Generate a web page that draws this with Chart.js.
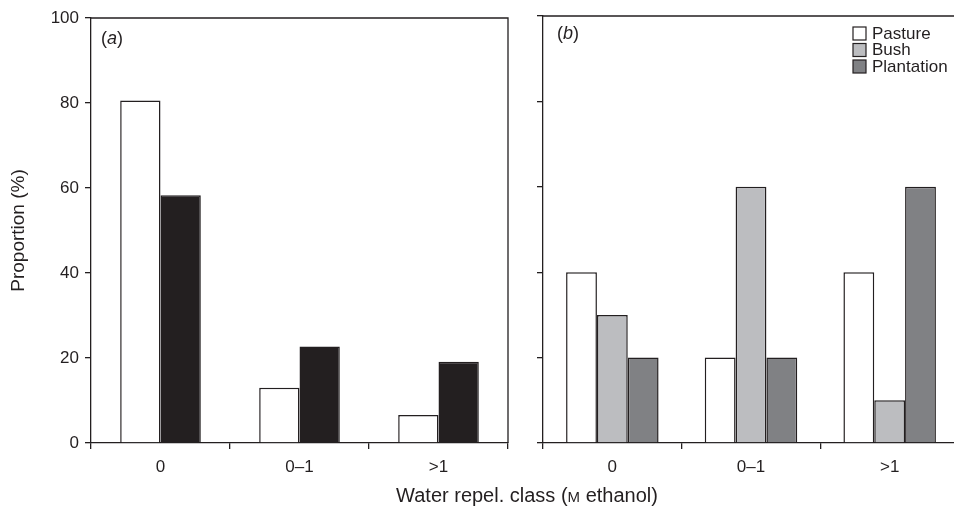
<!DOCTYPE html>
<html>
<head>
<meta charset="utf-8">
<script src="https://cdn.jsdelivr.net/npm/chart.js@4/dist/chart.umd.min.js"></script>
<style>
  html, body { margin: 0; padding: 0; background: #fff; }
  body { width: 954px; height: 512px; overflow: hidden; position: relative;
         font-family: "Liberation Sans", Arial, sans-serif; color: #231f20; }
  #wrapA { position: absolute; left: 0; top: 0; width: 520px; height: 512px; }
  #wrapB { position: absolute; left: 515px; top: 0; width: 460px; height: 512px; }
  .panel { position: absolute; font-size: 18px; line-height: 1; }
  #xtitle { position: absolute; left: 0; width: 1054px; top: 484px; text-align: center;
            font-size: 20px; white-space: nowrap; }
  #xtitle .sc { font-size: 15px; }
</style>
</head>
<body>
<div id="wrapA"><canvas id="chartA"></canvas></div>
<div id="wrapB"><canvas id="chartB"></canvas></div>
<div class="panel" style="left:101px; top:29px;">(<i>a</i>)</div>
<div class="panel" style="left:557px; top:24px;">(<i>b</i>)</div>
<div id="xtitle">Water repel. class (<span class="sc">M</span> ethanol)</div>
<script>
// Data
const categories = ['0', '0–1', '>1'];
const pastureA   = [80.6, 13.0, 6.6];
const forestA    = [58.3, 22.7, 19.1];
const pastureB   = [40, 20, 40];
const bushB      = [30, 60, 10];
const plantationB = [20, 20, 60];

const ink = '#231f20';
const font = { family: '"Liberation Sans", Arial, sans-serif', size: 17 };

// top and right border of the plot box
const boxPlugin = {
  id: 'box',
  afterDraw(chart) {
    const { ctx, chartArea: a } = chart;
    ctx.save();
    ctx.strokeStyle = ink;
    ctx.lineWidth = 1.3;
    ctx.beginPath();
    ctx.moveTo(a.left, a.top);
    ctx.lineTo(a.right, a.top);
    ctx.lineTo(a.right, a.bottom);
    ctx.stroke();
    ctx.restore();
  }
};

// legend drawn inside panel (b)
const legendPlugin = {
  id: 'innerLegend',
  afterDraw(chart) {
    const ctx = chart.ctx;
    ctx.save();
    ctx.font = '17px "Liberation Sans", Arial, sans-serif';
    ctx.textBaseline = 'middle';
    chart.data.datasets.forEach((ds, i) => {
      const x = 338, y = 33 + i * 16.5;
      ctx.fillStyle = ds.backgroundColor;
      ctx.fillRect(x, y - 6, 13, 13);
      ctx.strokeStyle = ink;
      ctx.lineWidth = 1.2;
      ctx.strokeRect(x, y - 6, 13, 13);
      ctx.fillStyle = ink;
      ctx.fillText(ds.label, x + 19, y + 1);
    });
    ctx.restore();
  }
};

function makeChart(id, datasets, opts) {
  const ctx = document.getElementById(id).getContext('2d');
  return new Chart(ctx, {
    type: 'bar',
    data: { labels: categories, datasets: datasets },
    options: {
      responsive: true,
      maintainAspectRatio: false,
      animation: false,
      layout: { padding: opts.padding },
      datasets: { bar: { categoryPercentage: opts.catPct, barPercentage: 1,
                         borderWidth: 1.5, borderColor: ink } },
      plugins: { legend: { display: false }, tooltip: { enabled: false } },
      scales: {
        x: {
          offset: true,
          grid: { offset: true, drawOnChartArea: false, tickLength: 6, color: ink, lineWidth: 1.3 },
          border: { display: true, color: ink, width: 1.3 },
          ticks: { color: ink, font: font, padding: 8 },
          afterFit(scale) { scale.height = 69; }
        },
        y: {
          min: 0, max: 100,
          grid: { drawOnChartArea: false, tickLength: 6, color: ink, lineWidth: 1.3 },
          border: { display: true, color: ink, width: 1.3 },
          ticks: { stepSize: 20, color: ink, font: font, padding: 6, display: opts.yLabels },
          title: { display: opts.yLabels, text: 'Proportion (%)', color: ink,
                   font: { family: font.family, size: 19 }, padding: { top: 7 } },
          afterFit(scale) { scale.width = opts.yWidth; }
        }
      }
    },
    plugins: opts.plugins
  });
}

makeChart('chartA', [
  { label: 'Pasture', data: pastureA, backgroundColor: '#ffffff' },
  { label: 'Bush + plantation', data: forestA, backgroundColor: ink }
], { padding: { top: 18, right: 12, left: 0, bottom: 0 }, catPct: 0.58,
     yLabels: true, yWidth: 91, plugins: [boxPlugin] });

makeChart('chartB', [
  { label: 'Pasture', data: pastureB, backgroundColor: '#ffffff' },
  { label: 'Bush', data: bushB, backgroundColor: '#bcbdc0' },
  { label: 'Plantation', data: plantationB, backgroundColor: '#808184' }
], { padding: { top: 16, right: 16, left: 0, bottom: 0 }, catPct: 0.667,
     yLabels: false, yWidth: 28, plugins: [boxPlugin, legendPlugin] });
</script>
</body>
</html>
